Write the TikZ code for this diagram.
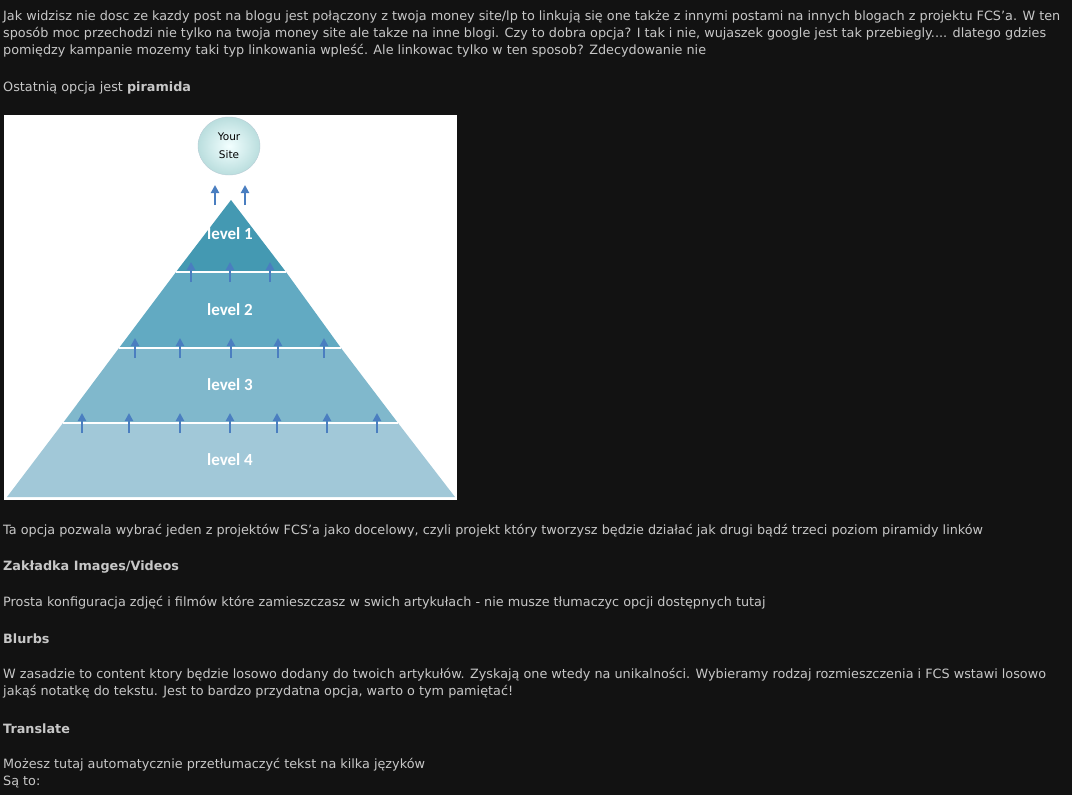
\documentclass[tikz,border=0pt]{standalone}
\usepackage{fontspec}
\setmainfont{DejaVu Sans}
\newfontfamily\labelfont{Carlito}
\usetikzlibrary{arrows.meta, positioning, shapes.geometric}

\begin{document}
\begin{tikzpicture}[x=1pt, y=-1pt, every node/.style={font=\fontsize{12.8}{15}\selectfont}]

% Styles
\definecolor{arr}{HTML}{4A7EC0}
\tikzstyle{txt} = [anchor=west, inner sep=0pt, text=black!22]
\tikzstyle{lvl} = [text=white, font=\labelfont\fontsize{17}{19}\selectfont\bfseries]
\tikzstyle{up} = [-{Triangle[length=8pt, width=8pt]}, line width=2.8pt, draw=arr]
\definecolor{lvA}{HTML}{4499B2}
\definecolor{lvB}{HTML}{62AAC2}
\definecolor{lvC}{HTML}{80B8CC}
\definecolor{lvD}{HTML}{A1C8D8}

\fill[black!93] (0,0) rectangle (1072,795);
\useasboundingbox (0,0) rectangle (1072,795);

% Text
\node[txt] (t1) at (3,17) {Jak widzisz nie dosc ze kazdy post na blogu jest połączony z twoja money site/lp to linkują się one także z innymi postami na innych blogach z projektu FCS'a. W ten};
\node[txt] (t2) at (3,34) {sposób moc przechodzi nie tylko na twoja money site ale takze na inne blogi. Czy to dobra opcja? I tak i nie, wujaszek google jest tak przebiegly.... dlatego gdzies};
\node[txt] (t3) at (3,51) {pomiędzy kampanie mozemy taki typ linkowania wpleść. Ale linkowac tylko w ten sposob? Zdecydowanie nie};
\node[txt] (t4) at (3,88) {Ostatnią opcja jest \textbf{piramida}};
\node[txt] (t5) at (3,531) {Ta opcja pozwala wybrać jeden z projektów FCS'a jako docelowy, czyli projekt który tworzysz będzie działać jak drugi bądź trzeci poziom piramidy linków};
\node[txt, font=\fontsize{12.8}{15}\selectfont\bfseries] (h1) at (3,567) {Zakładka Images/Videos};
\node[txt] (t6) at (3,603) {Prosta konfiguracja zdjęć i filmów które zamieszczasz w swich artykułach - nie musze tłumaczyc opcji dostępnych tutaj};
\node[txt, font=\fontsize{12.8}{15}\selectfont\bfseries] (h2) at (3,639) {Blurbs};
\node[txt] (t7) at (3,675) {W zasadzie to content ktory będzie losowo dodany do twoich artykułów. Zyskają one wtedy na unikalności. Wybieramy rodzaj rozmieszczenia i FCS wstawi losowo};
\node[txt] (t8) at (3,692) {jakąś notatkę do tekstu. Jest to bardzo przydatna opcja, warto o tym pamiętać!};
\node[txt, font=\fontsize{12.8}{15}\selectfont\bfseries] (h3) at (3,729) {Translate};
\node[txt] (t9) at (3,765) {Możesz tutaj automatycznie przetłumaczyć tekst na kilka języków};
\node[txt] (t10) at (3,782) {Są to:};

% Picture
\fill[white] (4,115) rectangle (457,500);
\fill[lvD] (7,497) -- (455,497) -- (398,423) -- (63,423) -- cycle;
\fill[lvC] (63,423) -- (398,423) -- (341,348) -- (119,348) -- cycle;
\fill[lvB] (119,348) -- (341,348) -- (286,272) -- (176,272) -- cycle;
\fill[lvA] (176,272) -- (286,272) -- (231,200) -- cycle;
\draw[white, line width=1.5pt] (176,272) -- (286,272) (119,348) -- (341,348) (63,423) -- (398,423);

\node[ellipse, draw=cyan!30!gray!50, inner color=cyan!5, outer color=cyan!35!gray!40, minimum width=62pt, minimum height=58pt, align=center, font=\fontsize{10.5}{18}\selectfont] (site) at (229,146) {Your\\Site};

\node[lvl] (l1) at (230,234) {level 1};
\node[lvl] (l2) at (230,310) {level 2};
\node[lvl] (l3) at (230,385) {level 3};
\node[lvl] (l4) at (230,460) {level 4};

% Arrows
\foreach \x in {215,245} \draw[up] (\x,205) -- (\x,185);
\foreach \x in {191,230,270} \draw[up] (\x,282) -- (\x,262);
\foreach \x in {135,180,231,278,324} \draw[up] (\x,358) -- (\x,338);
\foreach \x in {82,129,180,230,277,327,377} \draw[up] (\x,433) -- (\x,413);

\end{tikzpicture}
\end{document}
